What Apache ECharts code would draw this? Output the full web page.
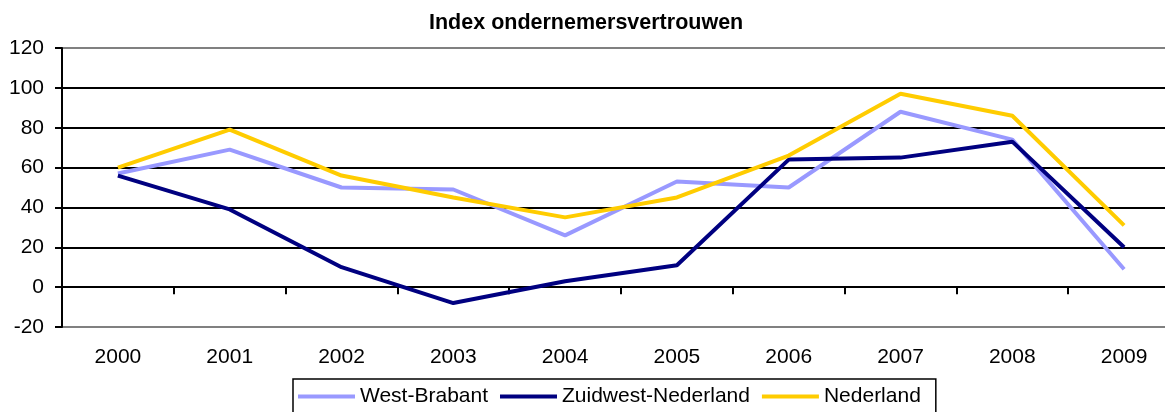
<!DOCTYPE html>
<html>
<head>
<meta charset="utf-8">
<script src="https://cdn.jsdelivr.net/npm/echarts@6/dist/echarts.min.js"></script>
<style>
  html, body { margin: 0; padding: 0; background: #fff; overflow: hidden; }
  /* plot loopt rechts door buiten beeld */
  #main { width: 1190px; height: 412px; }
</style>
</head>
<body>
<div id="main"></div>
<script>
// jaren
let years = ["2000", "2001", "2002", "2003", "2004", "2005", "2006", "2007", "2008", "2009"];

// index per regio
let westBrabant = [57, 69, 50, 49, 26, 53, 50, 88, 74, 9];
let zuidwestNederland = [56, 39, 10, -8, 3, 11, 64, 65, 73, 20];
let nederland = [60, 79, 56, 45, 35, 45, 66, 97, 86, 31];

let font = "Liberation Sans, Arial, sans-serif";

let myChart = document.getElementById("main");
let initChart = echarts.init(myChart, null, { renderer: "canvas" });

let option = {
  animation: false,
  title: {
    text: "Index ondernemersvertrouwen",
    left: 429,
    top: 12,
    padding: 0,
    textStyle: { fontFamily: font, fontSize: 21.5, fontWeight: "bold", color: "#000" },
  },

  grid: {
    left: 62,
    top: 48,
    width: 1118,
    height: 279,
    show: true,
    borderColor: "#808080",
    borderWidth: 2,
  },

  legend: {
    data: ["West-Brabant", "Zuidwest-Nederland", "Nederland"],
    left: 293,
    top: 379,
    icon: "rect",
    itemWidth: 57,
    itemHeight: 4,
    itemGap: 12,
    padding: [7, 15, 10, 5],
    borderColor: "#000",
    borderWidth: 1.5,
    textStyle: { fontFamily: font, fontSize: 21, color: "#000" },
  },

  xAxis: [
    {
      // lijn op nul met streepjes
      type: "category",
      data: years,
      boundaryGap: true,
      axisLine: { onZero: true, lineStyle: { color: "#000", width: 2 } },
      axisTick: { show: true, length: 7, lineStyle: { color: "#000", width: 2 } },
      axisLabel: { show: false },
      splitLine: { show: false },
    },
    {
      // labels onderaan
      type: "category",
      data: years,
      position: "bottom",
      boundaryGap: true,
      axisLine: { show: false, onZero: false },
      axisTick: { show: false },
      axisLabel: { margin: 20, fontFamily: font, fontSize: 21, color: "#000" },
      splitLine: { show: false },
    },
  ],

  yAxis: {
    type: "value",
    min: -20,
    max: 120,
    interval: 20,
    axisLine: { show: true, lineStyle: { color: "#000", width: 2 } },
    axisTick: { show: true, length: 7, lineStyle: { color: "#000", width: 2 } },
    axisLabel: { margin: 18, fontFamily: font, fontSize: 21, color: "#000" },
    splitLine: {
      show: true,
      showMinLine: false,
      showMaxLine: false,
      lineStyle: { color: "#000", width: 2 },
    },
  },

  series: [
    {
      name: "West-Brabant",
      type: "line",
      data: westBrabant,
      showSymbol: false,
      itemStyle: { color: "#9999FF" },
      lineStyle: { color: "#9999FF", width: 4 },
    },
    {
      name: "Zuidwest-Nederland",
      type: "line",
      data: zuidwestNederland,
      showSymbol: false,
      itemStyle: { color: "#000080" },
      lineStyle: { color: "#000080", width: 4 },
    },
    {
      name: "Nederland",
      type: "line",
      data: nederland,
      showSymbol: false,
      itemStyle: { color: "#FFCC00" },
      lineStyle: { color: "#FFCC00", width: 4 },
    },
  ],
};

initChart.setOption(option);
</script>
</body>
</html>
